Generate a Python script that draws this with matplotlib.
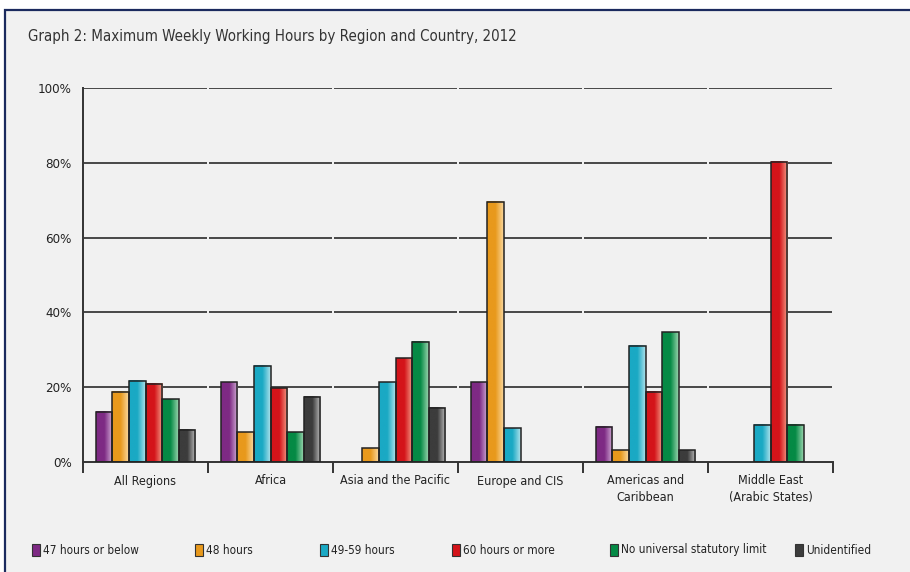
import numpy as np
import matplotlib
matplotlib.use("Agg")
import matplotlib.pyplot as plt
from matplotlib.colors import LinearSegmentedColormap
from matplotlib.patches import Rectangle

regions = ["All Regions", "Africa", "Asia and the Pacific", "Europe and CIS",
           "Americas and\nCaribbean", "Middle East\n(Arabic States)"]
series_names = ["47 hours or below", "48 hours", "49-59 hours", "60 hours or more",
                "No universal statutory limit", "Unidentified"]
hours_47_below = [13.5, 21.3, 0.0, 21.3, 9.4, 0.0]
hours_48 = [18.8, 8.0, 3.7, 69.6, 3.2, 0.0]
hours_49_59 = [21.7, 25.8, 21.3, 9.0, 31.1, 9.9]
hours_60_more = [20.9, 19.7, 27.8, 0.0, 18.8, 80.3]
no_limit = [16.8, 8.0, 32.2, 0.0, 34.7, 9.9]
unidentified = [8.6, 17.4, 14.5, 0.0, 3.2, 0.0]
series = [hours_47_below, hours_48, hours_49_59, hours_60_more, no_limit, unidentified]

dark = ["#7e2a84", "#e8991c", "#1aa9c4", "#d4141a", "#058a45", "#3c3c3c"]
light = ["#d4b0d8", "#fbd9a0", "#b0e3ec", "#f5a08a", "#9dd6b0", "#c0c0c0"]

plt.rcParams["font.family"] = ["DejaVu Sans"]
plt.rcParams["font.stretch"] = "condensed"
bg = "#f1f1f1"

fig = plt.figure(figsize=(9.1, 5.72), dpi=100)
fig.patch.set_facecolor("white")
fig.patches.append(Rectangle((5 / 910, -0.1), 1.2, 1 - 10 / 572 + 0.1,
                             transform=fig.transFigure, facecolor=bg,
                             edgecolor="#1b2a5e", linewidth=1.6, zorder=-5))

ax = fig.add_axes([83 / 910, 1 - 462 / 572, 750 / 910, 374 / 572])
ax.set_facecolor("none")

x = np.arange(len(regions))
width = 0.133
for i, vals in enumerate(series):
    offset = (i - 2.5) * width
    bars = ax.bar(x + offset, vals, width, color=dark[i], edgecolor="#222222",
                  linewidth=1.1, zorder=3)
    cmap = LinearSegmentedColormap.from_list("g%d" % i, [dark[i], dark[i], light[i]])
    for rect, v in zip(bars, vals):
        if v <= 0:
            rect.set_visible(False)
            continue
        rect.set_facecolor("none")
        ax.imshow(np.linspace(0, 1, 64).reshape(1, -1), cmap=cmap, aspect="auto",
                  extent=[rect.get_x(), rect.get_x() + rect.get_width(), 0, v],
                  zorder=2.5, interpolation="bilinear")

# gridlines broken into one segment per region
gap = 0.008
for yv in [20, 40, 60, 80, 100]:
    for g in range(len(regions)):
        ax.plot([g - 0.5 + gap, g + 0.5 - gap], [yv, yv], color="#3a3a3a",
                linewidth=1.3, zorder=1, solid_capstyle="butt")

ax.set_xlim(-0.5, len(regions) - 0.5)
ax.set_ylim(0, 100)
ax.set_yticks([0, 20, 40, 60, 80, 100])
ax.set_yticklabels(["0%", "20%", "40%", "60%", "80%", "100%"], fontsize=9.5,
                   color="#222222")
ax.tick_params(axis="y", length=0, pad=8)
ax.set_xticks(x)
ax.set_xticklabels(regions, fontsize=9, linespacing=1.35, color="#222222")
ax.set_xticks(np.arange(len(regions) + 1) - 0.5, minor=True)
ax.tick_params(axis="x", which="major", length=0, pad=9)
ax.tick_params(axis="x", which="minor", length=8, width=1.4, color="#333333")
for s in ["top", "right"]:
    ax.spines[s].set_visible(False)
for s in ["left", "bottom"]:
    ax.spines[s].set_color("#333333")
    ax.spines[s].set_linewidth(1.4)

fig.text(28 / 910, 1 - 37 / 572, "Graph 2: Maximum Weekly Working Hours by Region and Country, 2012",
         fontsize=10.8, color="#333333", va="center", ha="left")

legend_x = [32, 195, 320, 452, 610, 795]
for lx, name, c in zip(legend_x, series_names, dark):
    fig.patches.append(Rectangle((lx / 910, 1 - 556 / 572), 8 / 910, 12 / 572,
                                 transform=fig.transFigure, facecolor=c,
                                 edgecolor="#333333", linewidth=0.8))
    fig.text((lx + 11) / 910, 1 - 550 / 572, name, fontsize=8.5, color="#222222",
             va="center", ha="left")

fig.savefig("out.png", dpi=100, facecolor=fig.get_facecolor())
